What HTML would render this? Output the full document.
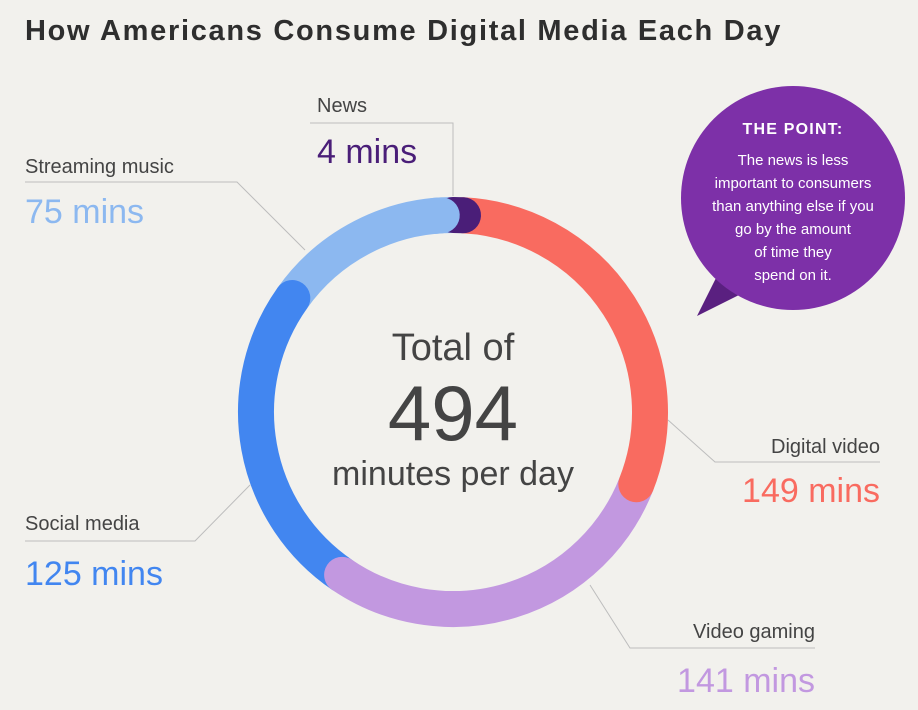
<!DOCTYPE html>
<html><head><meta charset="utf-8"><style>
body{margin:0;width:918px;height:710px;background:#f2f1ed;font-family:"Liberation Sans",sans-serif;overflow:hidden}
svg{position:absolute;left:0;top:0}
</style></head><body>
<svg width="918" height="710">
<text x="25" y="40" font-size="29" font-weight="bold" fill="#2e2e2e" letter-spacing="1.7">How Americans Consume Digital Media Each Day</text>
<g id="leaders" stroke="#bdbdbd" stroke-width="1" fill="none">
<polyline points="453,196 453,123 310,123"/>
<polyline points="25,182 237,182 305,250"/>
<polyline points="668,420 715,462 880,462"/>
<polyline points="590,585 630,648 815,648"/>
<polyline points="25,541 195,541 250,485"/>
</g>
<g id="arcs"></g>
<text x="453" y="360" text-anchor="middle" font-size="38" fill="#444">Total of</text>
<text x="453" y="440" text-anchor="middle" font-size="78" fill="#444">494</text>
<text x="453" y="485" text-anchor="middle" font-size="34" fill="#444">minutes per day</text>
<g font-size="20" fill="#444">
<text x="317" y="112">News</text>
<text x="25" y="173">Streaming music</text>
<text x="880" y="453" text-anchor="end">Digital video</text>
<text x="815" y="638" text-anchor="end">Video gaming</text>
<text x="25" y="530">Social media</text>
</g>
<g font-size="34">
<text x="317" y="163" fill="#4a1e78">4 mins</text>
<text x="25" y="223" fill="#8cb8f0">75 mins</text>
<text x="880" y="502" text-anchor="end" fill="#f96b60">149 mins</text>
<text x="815" y="692" text-anchor="end" fill="#c298e0">141 mins</text>
<text x="25" y="585" fill="#4286f0">125 mins</text>
</g>
<g>
<path d="M720,270 L697,316 L745,292 Z" fill="#5a2080"/>
<circle cx="793" cy="198" r="112" fill="#7d30a8"/>
<text x="793" y="134" text-anchor="middle" font-size="16" font-weight="bold" fill="#fff" letter-spacing="1.2">THE POINT:</text>
<g font-size="15" fill="#fff" text-anchor="middle">
<text x="793" y="165">The news is less</text>
<text x="793" y="188">important to consumers</text>
<text x="793" y="211">than anything else if you</text>
<text x="793" y="234">go by the amount</text>
<text x="793" y="257">of time they</text>
<text x="793" y="280">spend on it.</text>
</g></g>
</svg>
<script>
const categories=["News","Digital video","Video gaming","Social media","Streaming music"];
const values=[4,149,141,125,75];
const colors=["#4a1e78","#f96b60","#c298e0","#4286f0","#8cb8f0"];
const drawOrder=[4,3,2,1,0];
const cx=453,cy=412,r=197,total=values.reduce((a,b)=>a+b,0);
const starts=[];let acc=0;values.forEach(v=>{starts.push(acc);acc+=v;});
function pt(a){const t=a/total*2*Math.PI;return [cx+r*Math.sin(t),cy-r*Math.cos(t)];}
const g=document.getElementById('arcs');
function arc(s,e,color,name){
  const [x1,y1]=pt(s),[x2,y2]=pt(e);
  const large=((e-s)/total>0.5)?1:0;
  const p=document.createElementNS('http://www.w3.org/2000/svg','path');
  p.setAttribute('d',`M${x1},${y1} A${r},${r} 0 ${large} 1 ${x2},${y2}`);
  p.setAttribute('stroke',color);p.setAttribute('stroke-width','36');
  p.setAttribute('fill','none');p.setAttribute('stroke-linecap','round');
  
  
  g.appendChild(p);
}
drawOrder.forEach(i=>{
  arc(starts[i],starts[i]+values[i],colors[i],'arc-'+categories[i].toLowerCase().replace(/ /g,'-'));
});
// cap of streaming music end overlapping news start
arc(total-values[4]*0.1,total-4.5,colors[4],'arc-streaming-end-cap');
</script>
</body></html>
